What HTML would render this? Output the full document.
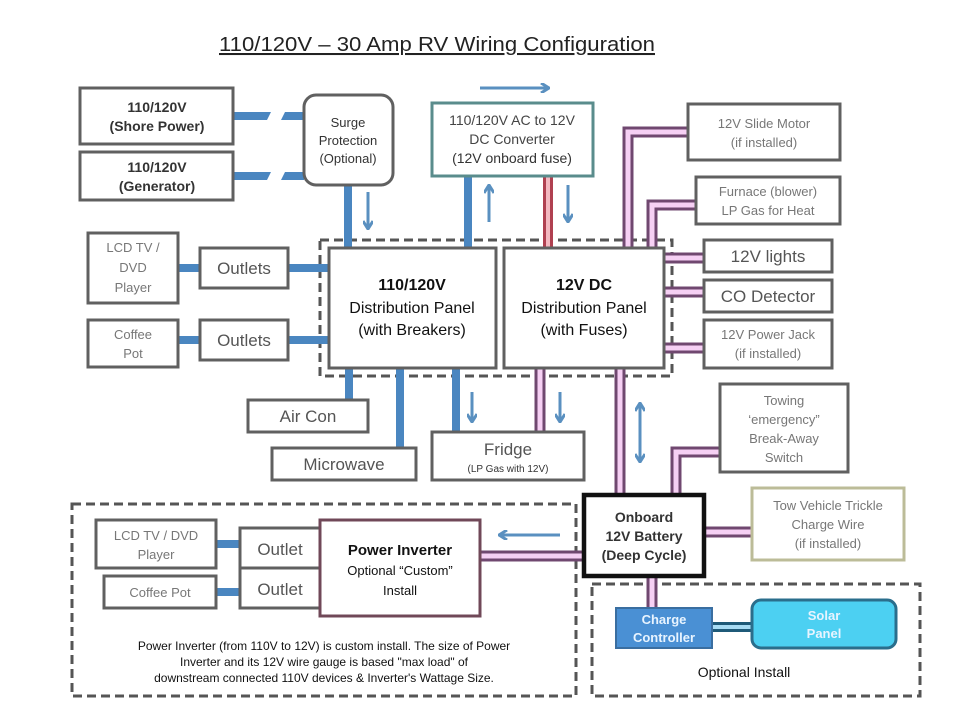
<!DOCTYPE html>
<html><head><meta charset="utf-8"><style>
html,body{margin:0;padding:0;background:#fff}
svg{display:block}
text{font-family:"Liberation Sans",sans-serif}
</style></head><body>
<svg width="960" height="720" viewBox="0 0 960 720" xmlns="http://www.w3.org/2000/svg">
<defs>
<marker id="ah" markerWidth="10" markerHeight="10" refX="8" refY="5" orient="auto" markerUnits="userSpaceOnUse">
<path d="M1,0 L9,5 L1,10" fill="none" stroke="#5a90c0" stroke-width="3"/></marker>
<marker id="ahs" markerWidth="10" markerHeight="10" refX="2" refY="5" orient="auto" markerUnits="userSpaceOnUse">
<path d="M9,0 L1,5 L9,10" fill="none" stroke="#5a90c0" stroke-width="3"/></marker>
</defs>
<text x="437" y="51" font-size="20.5" text-anchor="middle" fill="#222" text-decoration="underline" textLength="436" lengthAdjust="spacingAndGlyphs">110/120V – 30 Amp RV Wiring Configuration</text>

<g fill="none" stroke="#555" stroke-width="3" stroke-dasharray="9,5">
<rect x="320" y="240" width="352" height="136"/>
<rect x="72" y="504" width="504" height="192"/>
<rect x="592" y="584" width="328" height="112"/>
</g>

<g stroke="#4a86c0" stroke-width="8" fill="none">
<path d="M233,116 H304"/>
<path d="M233,176 H304"/>
<path d="M348,185 V248"/>
<path d="M468,176 V248"/>
<path d="M178,268 H200 M288,268 H329"/>
<path d="M178,340 H200 M288,340 H329"/>
<path d="M349,368 V400 M400,368 V448 M456,368 V432"/>
<path d="M216,544 H240 M216,592 H240"/>
</g>
<g fill="#fff"><polygon points="272,110 286,110 280,122 266,122"/>
<polygon points="272,170 286,170 280,182 266,182"/></g>
<path d="M548,176 V248" stroke="#b04050" stroke-width="10"/><path d="M548,176 V248" stroke="#f4b8c0" stroke-width="4"/>

<g fill="none" stroke-linejoin="miter">
<g stroke="#704870" stroke-width="11">
<path d="M628,248 V132 H688"/>
<path d="M652,248 V205 H696"/>
<path d="M664,258 H704 M664,292 H704 M664,348 H704"/>
<path d="M540,368 V432"/>
<path d="M620,368 V495"/>
<path d="M676,495 V452 H720"/>
<path d="M704,532 H752"/>
<path d="M480,556 H584"/>
<path d="M652,576 V608"/>
</g>
<g stroke="#f6d0f4" stroke-width="5">
<path d="M628,248 V132 H688"/>
<path d="M652,248 V205 H696"/>
<path d="M664,258 H704 M664,292 H704 M664,348 H704"/>
<path d="M540,368 V432"/>
<path d="M620,368 V495"/>
<path d="M676,495 V452 H720"/>
<path d="M704,532 H752"/>
<path d="M480,556 H584"/>
<path d="M652,576 V608"/>
</g>
</g>
<path d="M712,627 H752" stroke="#1f5a78" stroke-width="10"/><path d="M712,627 H752" stroke="#a8dcf4" stroke-width="4"/>

<g stroke="#5a90c0" stroke-width="3" fill="none">
<line x1="480" y1="88" x2="548" y2="88" marker-end="url(#ah)"/>
<line x1="368" y1="192" x2="368" y2="228" marker-end="url(#ah)"/>
<line x1="489" y1="222" x2="489" y2="186" marker-end="url(#ah)"/>
<line x1="568" y1="185" x2="568" y2="221" marker-end="url(#ah)"/>
<line x1="472" y1="392" x2="472" y2="421" marker-end="url(#ah)"/>
<line x1="560" y1="392" x2="560" y2="421" marker-end="url(#ah)"/>
<line x1="640" y1="404" x2="640" y2="461" marker-end="url(#ah)" marker-start="url(#ahs)"/>
<line x1="560" y1="535" x2="500" y2="535" marker-end="url(#ah)"/>
</g>

<g fill="#fff" stroke="#606060" stroke-width="3">
<rect x="80" y="88" width="153" height="56"/>
<rect x="80" y="152" width="153" height="48"/>
<rect x="304" y="95" width="89" height="90" rx="12"/>
<rect x="688" y="104" width="152" height="56"/>
<rect x="696" y="177" width="144" height="47"/>
<rect x="704" y="240" width="128" height="32"/>
<rect x="704" y="280" width="128" height="32"/>
<rect x="704" y="320" width="128" height="48"/>
<rect x="329" y="248" width="167" height="120"/>
<rect x="504" y="248" width="160" height="120"/>
<rect x="88" y="233" width="90" height="70"/>
<rect x="88" y="320" width="90" height="47"/>
<rect x="200" y="248" width="88" height="40"/>
<rect x="200" y="320" width="88" height="40"/>
<rect x="248" y="400" width="120" height="32"/>
<rect x="272" y="448" width="144" height="32"/>
<rect x="432" y="432" width="152" height="48"/>
<rect x="720" y="384" width="128" height="88"/>
<rect x="96" y="520" width="120" height="48"/>
<rect x="104" y="576" width="112" height="32"/>
<rect x="240" y="528" width="80" height="40"/>
<rect x="240" y="568" width="80" height="40"/>
</g>
<rect x="432" y="103" width="161" height="73" fill="#fff" stroke="#5a8c8c" stroke-width="3"/>
<rect x="752" y="488" width="152" height="72" fill="#fff" stroke="#bcbc98" stroke-width="3"/>
<rect x="320" y="520" width="160" height="96" fill="#fff" stroke="#704858" stroke-width="3"/>
<rect x="584" y="495" width="120" height="81" fill="#fff" stroke="#111" stroke-width="4.5"/>
<rect x="616" y="608" width="96" height="40" fill="#4a90d4" stroke="#3a6ea0" stroke-width="2"/>
<rect x="752" y="600" width="144" height="48" rx="9" fill="#4cd0f2" stroke="#2a6e8c" stroke-width="3"/>

<g font-size="14" text-anchor="middle" fill="#333" font-weight="bold">
<text x="157" y="112">110/120V</text><text x="157" y="131">(Shore Power)</text>
<text x="157" y="172">110/120V</text><text x="157" y="191">(Generator)</text>
<text x="512" y="125" font-weight="normal" fill="#444">110/120V AC to 12V</text>
<text x="512" y="144" font-weight="normal" fill="#444">DC Converter</text>
<text x="512" y="163" font-weight="normal" fill="#333">(12V onboard fuse)</text>
<text x="644" y="522">Onboard</text><text x="644" y="541">12V Battery</text><text x="644" y="560">(Deep Cycle)</text>
</g>
<g font-size="13" text-anchor="middle" fill="#333">
<text x="348" y="127">Surge</text><text x="348" y="145">Protection</text><text x="348" y="163">(Optional)</text>
</g>
<g font-size="16" text-anchor="middle" fill="#111">
<text x="412" y="290" font-weight="bold">110/120V</text><text x="412" y="313">Distribution Panel</text><text x="412" y="335">(with Breakers)</text>
<text x="584" y="290" font-weight="bold">12V DC</text><text x="584" y="313">Distribution Panel</text><text x="584" y="335">(with Fuses)</text>
<text x="400" y="555" font-size="15" font-weight="bold">Power Inverter</text>
<text x="400" y="575" font-size="13">Optional “Custom”</text>
<text x="400" y="595" font-size="13">Install</text>
</g>
<g font-size="13" text-anchor="middle" fill="#777">
<text x="764" y="128">12V Slide Motor</text><text x="764" y="147">(if installed)</text>
<text x="768" y="196">Furnace (blower)</text><text x="768" y="215">LP Gas for Heat</text>
<text x="768" y="339">12V Power Jack</text><text x="768" y="358">(if installed)</text>
<text x="133" y="252">LCD TV /</text><text x="133" y="272">DVD</text><text x="133" y="292">Player</text>
<text x="133" y="339">Coffee</text><text x="133" y="358">Pot</text>
<text x="784" y="405">Towing</text><text x="784" y="424">‘emergency”</text><text x="784" y="443">Break-Away</text><text x="784" y="462">Switch</text>
<text x="828" y="510">Tow Vehicle Trickle</text><text x="828" y="529">Charge Wire</text><text x="828" y="548">(if installed)</text>
<text x="156" y="540">LCD TV / DVD</text><text x="156" y="559">Player</text>
<text x="160" y="597">Coffee Pot</text>
</g>
<g font-size="17" text-anchor="middle" fill="#555">
<text x="768" y="262">12V lights</text>
<text x="768" y="302">CO Detector</text>
<text x="244" y="274">Outlets</text><text x="244" y="346">Outlets</text>
<text x="308" y="422">Air Con</text><text x="344" y="470">Microwave</text>
<text x="508" y="455">Fridge</text>
<text x="280" y="555">Outlet</text><text x="280" y="595">Outlet</text>
</g>
<text x="508" y="472" font-size="10" text-anchor="middle" fill="#333">(LP Gas with 12V)</text>
<g font-size="12" text-anchor="middle" fill="#111">
<text x="324" y="650">Power Inverter  (from 110V to 12V) is custom install.  The size of Power</text>
<text x="324" y="666">Inverter and its 12V wire gauge is based "max load" of</text>
<text x="324" y="682">downstream connected 110V devices &amp; Inverter's Wattage Size.</text>
</g>
<text x="744" y="677" font-size="14" text-anchor="middle" fill="#111">Optional Install</text>
<g font-size="13" text-anchor="middle" fill="#e8f4ff" font-weight="bold">
<text x="664" y="624">Charge</text><text x="664" y="642">Controller</text>
<text x="824" y="620">Solar</text><text x="824" y="638">Panel</text>
</g>
</svg>
</body></html>
